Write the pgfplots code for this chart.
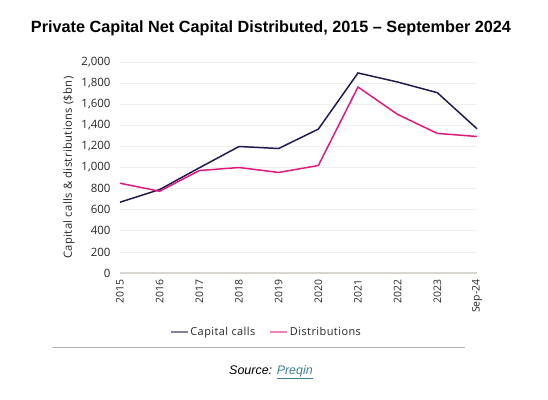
\documentclass[border=0pt]{standalone}
\usepackage{pgfplots}
\pgfplotsset{compat=1.18}
\usepackage{fontspec}
\setmainfont{Open Sans}
\newfontfamily\titlefont[Ligatures=TeX]{Liberation Sans}
\newfontfamily\widefont[LetterSpace=3]{Open Sans}
\newfontfamily\legfont[LetterSpace=4]{Open Sans}
\definecolor{calls}{HTML}{1F1A4F}
\definecolor{dist}{HTML}{E0197D}
\definecolor{gridc}{HTML}{EFEFEF}
\definecolor{axc}{HTML}{D9D5D0}
\definecolor{link}{HTML}{3D7F8F}
\begin{document}
\begin{tikzpicture}[x=1bp,y=1bp]
\path[use as bounding box] (0,0) rectangle (548,399);
\node[font=\titlefont\bfseries\fontsize{16.3}{19}\selectfont] at (271,371) {Private Capital Net Capital Distributed, 2015 \textendash{} September 2024};
\begin{axis}[
  at={(120bp,126bp)}, anchor=south west,
  width=357bp, height=211bp, scale only axis,
  xmin=0, xmax=9, ymin=0, ymax=2000,
  xtick={0,...,9},
  xticklabels={2015,2016,2017,2018,2019,2020,2021,2022,2023,Sep-24},
  x tick label style={rotate=90, anchor=east, font=\fontsize{10.5}{12}\selectfont, text=black!85},
  ytick={0,200,...,2000},
  y tick label style={font=\fontsize{11.5}{13}\selectfont, text=black!85},
  /pgf/number format/assume math mode=true,
  /pgf/number format/1000 sep={,},
  ymajorgrids, grid style={gridc, line width=0.8pt},
  axis x line*=bottom, axis y line*=left,
  x axis line style={axc, line width=2pt, -},
  y axis line style={draw=none},
  major tick length=0pt,
  ylabel={Capital calls \& distributions (\$bn)},
  every axis y label/.style={at={(ticklabel cs:0.5)}, rotate=90, anchor=south,
    font=\widefont\fontsize{11.3}{13}\selectfont, text=black!85},
  xticklabel shift=3bp, yticklabel shift=6bp,
  legend columns=2,
  legend style={at={(0.41,-0.28)}, anchor=center, draw=none, fill=none,
    font=\legfont\fontsize{11}{13}\selectfont, text=black!85,
    /tikz/every even column/.append style={column sep=12bp}},
  legend image code/.code={\draw[#1, opacity=0.55, line width=1.6pt] (0bp,0bp) -- (17bp,0bp);},
  clip=false,
]
\addplot[calls, line width=1.5pt] coordinates {(0,671) (1,791) (2,997) (3,1199) (4,1180) (5,1364) (6,1896) (7,1810) (8,1709) (9,1367)};
\addlegendentry{Capital calls}
\addplot[dist, line width=1.5pt] coordinates {(0,851) (1,775) (2,971) (3,1000) (4,953) (5,1019) (6,1763) (7,1503) (8,1323) (9,1294)};
\addlegendentry{Distributions}
\end{axis}
\draw[black!30, line width=1bp] (52,52) -- (465,52);
\node[font=\titlefont\itshape\fontsize{12.5}{14}\selectfont] at (271,27) {Source: \textcolor{link}{\underline{Preqin}}};
\end{tikzpicture}
\end{document}
